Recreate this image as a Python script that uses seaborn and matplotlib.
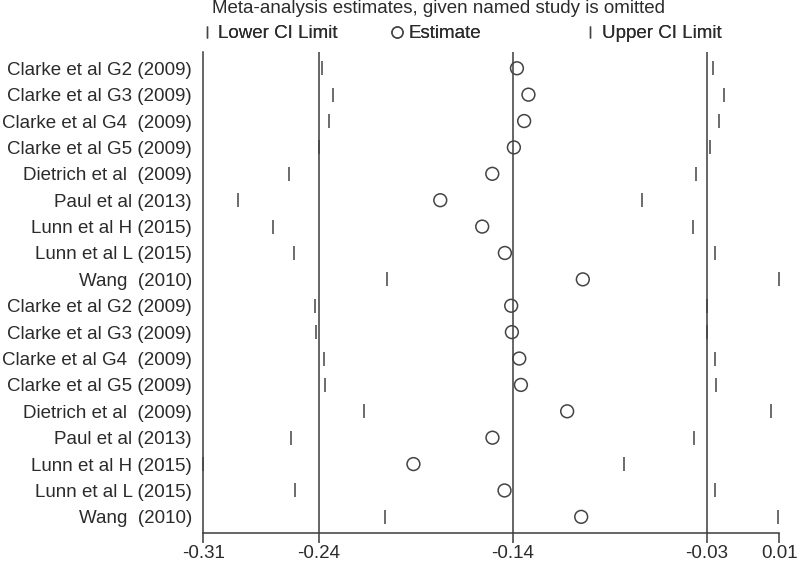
import matplotlib.pyplot as plt
import pandas as pd
import seaborn as sns
from matplotlib.lines import Line2D

STUDIES = [
    "Clarke et al G2 (2009)", "Clarke et al G3 (2009)", "Clarke et al G4  (2009)",
    "Clarke et al G5 (2009)", "Dietrich et al  (2009)", "Paul et al (2013)",
    "Lunn et al H (2015)", "Lunn et al L (2015)", "Wang  (2010)",
    "Clarke et al G2 (2009)", "Clarke et al G3 (2009)", "Clarke et al G4  (2009)",
    "Clarke et al G5 (2009)", "Dietrich et al  (2009)", "Paul et al (2013)",
    "Lunn et al H (2015)", "Lunn et al L (2015)", "Wang  (2010)",
]
LOWER = [-0.2441, -0.2379, -0.2400, -0.2454, -0.2624, -0.2907, -0.2713, -0.2593, -0.2080,
         -0.2478, -0.2472, -0.2429, -0.2422, -0.2206, -0.2613, -0.3100, -0.2591, -0.2089]
ESTIMATE = [-0.1357, -0.1293, -0.1317, -0.1374, -0.1494, -0.1783, -0.1550, -0.1424, -0.0991,
            -0.1389, -0.1385, -0.1344, -0.1335, -0.1078, -0.1493, -0.1932, -0.1426, -0.1000]
UPPER = [-0.0268, -0.0209, -0.0232, -0.0287, -0.0363, -0.0661, -0.0380, -0.0257, 0.0100,
         -0.0302, -0.0300, -0.0256, -0.0250, 0.0054, -0.0372, -0.0765, -0.0256, 0.0093]

# overall pooled estimate and its CI (reference lines)
OVERALL = [-0.2457, -0.1379, -0.0302]
X_TICKS = [-0.31, -0.2457, -0.1379, -0.0302, 0.01]
X_TICK_LABELS = ["-0.31", "-0.24", "-0.14", "-0.03", "0.01"]

TEXT = "#2b2b2b"
LINE = "#3c3c3c"
MARK = "#444444"
FS = 13.5


def main() -> None:
    sns.set_theme(style="white")
    plt.rcParams["font.family"] = ["Liberation Sans", "DejaVu Sans"]

    df = pd.DataFrame({
        "row": range(1, len(STUDIES) + 1),
        "study": STUDIES,
        "lower": LOWER,
        "estimate": ESTIMATE,
        "upper": UPPER,
    })

    fig = plt.figure(figsize=(8, 5.61), dpi=100)
    ax = fig.add_axes([0.254, 0.050, 0.720, 0.857])

    for x in OVERALL:
        ax.axvline(x, color=LINE, linewidth=1.1, zorder=1)

    sns.scatterplot(data=df, x="lower", y="row", marker="|", s=90, color=MARK,
                    linewidth=1.1, ax=ax, clip_on=False, zorder=3)
    sns.scatterplot(data=df, x="upper", y="row", marker="|", s=90, color=MARK,
                    linewidth=1.1, ax=ax, clip_on=False, zorder=3)
    sns.scatterplot(data=df, x="estimate", y="row", marker="o", s=85, facecolor="none",
                    edgecolor=MARK, linewidth=1.1, ax=ax, clip_on=False, zorder=3)

    ax.set_xlim(-0.31, 0.01)
    ax.set_ylim(len(STUDIES) + 0.61, 0.39)
    ax.set_yticks(df["row"])
    ax.set_yticklabels(df["study"], fontsize=FS, color=TEXT)
    ax.set_xticks(X_TICKS)
    ax.set_xticklabels(X_TICK_LABELS, fontsize=FS, color=TEXT)
    ax.tick_params(axis="y", length=0, pad=8)
    ax.tick_params(axis="x", length=7, width=1.1, color=LINE, pad=2, direction="out", bottom=True)
    ax.set_xlabel("")
    ax.set_ylabel("")
    sns.despine(ax=ax, top=True, right=True)
    for side in ("left", "bottom"):
        ax.spines[side].set_color(LINE)
        ax.spines[side].set_linewidth(1.1)

    fig.text(0.548, 0.984, "Meta-analysis estimates, given named study is omitted",
             ha="center", va="center", fontsize=FS, color=TEXT)

    entries = [
        (Line2D([], [], marker="|", linestyle="none", color=MARK, markersize=9), "Lower CI Limit", 0.252),
        (Line2D([], [], marker="o", linestyle="none", markerfacecolor="none", markeredgecolor=MARK,
                markersize=8), "Estimate", 0.489),
        (Line2D([], [], marker="|", linestyle="none", color=MARK, markersize=9), "Upper CI Limit", 0.731),
    ]
    for handle, label, x in entries:
        leg = fig.legend(handles=[handle], labels=[label], loc="center left",
                         bbox_to_anchor=(x, 0.940), frameon=False, fontsize=FS,
                         handlelength=0.6, handletextpad=0.3, borderpad=0, borderaxespad=0,
                         labelcolor=TEXT)
        fig.add_artist(leg)

    fig.savefig("out.png", dpi=100)
    plt.close(fig)


if __name__ == "__main__":
    main()
